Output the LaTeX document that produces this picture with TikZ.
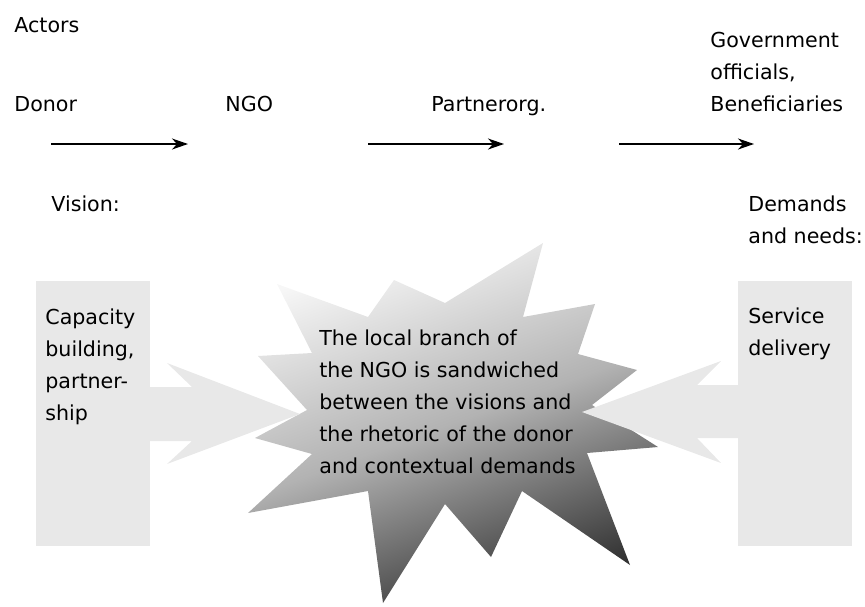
\documentclass[tikz,border=0pt]{standalone}
\usepackage{fontspec}
\setmainfont{DejaVu Sans}
\usepackage{tikz}
\usetikzlibrary{arrows.meta, positioning}
\tikzset{
  txt/.style={inner sep=0pt, anchor=base west, align=left,
              font=\fontsize{10.3}{16}\selectfont},
  panel/.style={fill=black!9, draw=none},
  broadarrow/.style={fill=black!9, draw=none},
  flow/.style={line width=0.75pt, -{Stealth[length=8pt, width=5.5pt, inset=2.5pt]}},
  burst/.style={top color=black!3, bottom color=black!80, middle color=black!30,
                shading angle=20},
}

\begin{document}
\begin{tikzpicture}[x=0.5pt, y=-0.5pt]
    \useasboundingbox (0,0) rectangle (865,606);
    %% Panels for vision and demands
    \fill[panel] (36,281) rectangle (150,546);
    \fill[panel] (738,281) rectangle (852,546);
    %% Starburst in the middle
    \shade[burst] (277,284) -- (368,317) -- (394,280) -- (445,303)
      -- (543,243) -- (523,317) -- (595,304) -- (578,354) -- (637,370)
      -- (592,405) -- (658,447) -- (587,453) -- (630,565) -- (522,491)
      -- (491,557) -- (445,504) -- (383,603) -- (368,491) -- (248,513)
      -- (312,454) -- (255,438) -- (307,410) -- (258,356) -- (312,353)
      -- cycle;
    %% Broad arrows pressing on the starburst
    \fill[broadarrow] (150,387) -- (192,387) -- (167,363) -- (300,414)
      -- (167,464) -- (192,441) -- (150,441) -- cycle;
    \fill[broadarrow] (738,385) -- (697,385) -- (721,361) -- (582,412)
      -- (721,463) -- (697,438) -- (738,438) -- cycle;
    %% Actors row (multi-line nodes sit on their last baseline)
    \node[txt] (actors) at (14,32) {Actors};
    \node[txt] (donor) at (14,111) {Donor};
    \node[txt] (ngo) at (225,111) {NGO};
    \node[txt] (partner) at (431,111) {Partnerorg.};
    \node[txt] (gov) at (710,111) {Government\\officials,\\Beneficiaries};
    \coordinate (f1s) at (51,144);  \coordinate (f1e) at (188,144);
    \coordinate (f2s) at (368,144); \coordinate (f2e) at (504,144);
    \coordinate (f3s) at (619,144); \coordinate (f3e) at (754,144);
    \draw[flow] (f1s) -- (f1e);
    \draw[flow] (f2s) -- (f2e);
    \draw[flow] (f3s) -- (f3e);
    %% Headings and panel texts
    \node[txt] (vision) at (51,211) {Vision:};
    \node[txt] (demands) at (748,243) {Demands\\and needs:};
    \node[txt] (capacity) at (45,420) {Capacity\\building,\\partner-\\ship};
    \node[txt] (service) at (748,355) {Service\\delivery};
    \node[txt] (sandwich) at (319,473) {The local branch of\\the NGO is sandwiched\\between the visions and\\the rhetoric of the donor\\and contextual demands};
\end{tikzpicture}
\end{document}
